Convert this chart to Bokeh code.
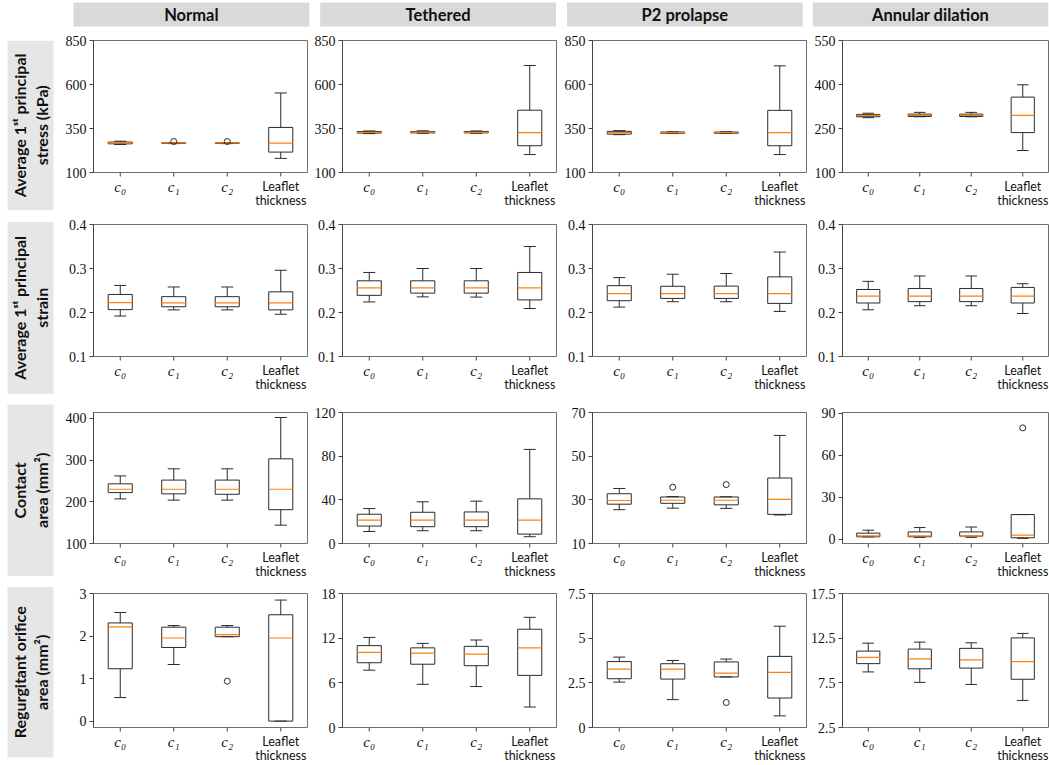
import math
from bokeh.plotting import figure
from bokeh.models import Range1d, FixedTicker, ColumnDataSource, GridBox
from bokeh.embed import file_html
from bokeh.resources import INLINE
from bokeh.core.properties import value

# ---------------- data ----------------
conditions = ["Normal", "Tethered", "P2 prolapse", "Annular dilation"]
row_titles = ["Average 1ˢᵗ principal\nstress (kPa)",
              "Average 1ˢᵗ principal\nstrain",
              "Contact\narea (mm²)",
              "Regurgitant orifice\narea (mm²)"]
positions = [1, 2, 3, 4]
tick_labels = ["c₀", "c₁", "c₂", "Leaflet", "thickness"]

# each entry: [whisker low, Q1, median, Q3, whisker high] for c0, c1, c2, leaflet thickness
stress_normal = [[259, 263, 268, 273, 278], [264, 266, 268, 269, 270],
                 [264, 266, 268, 269, 270], [180, 216, 267, 356, 552]]
stress_tethered = [[321, 324, 328, 333, 336], [323, 325, 329, 333, 337],
                   [323, 325, 328, 333, 336], [202, 252, 327, 454, 708]]
stress_p2 = [[315, 318, 326, 334, 338], [322, 323, 326, 330, 331],
             [322, 323, 326, 330, 331], [202, 252, 326, 453, 706]]
stress_annular = [[287, 290, 295, 298, 302], [290, 291, 295, 299, 305],
                  [290, 291, 295, 299, 305], [175, 236, 295, 357, 399]]

strain_normal = [[0.192, 0.2065, 0.2225, 0.241, 0.2615], [0.206, 0.213, 0.222, 0.236, 0.258],
                 [0.206, 0.213, 0.222, 0.236, 0.258], [0.196, 0.206, 0.222, 0.247, 0.296]]
strain_tethered = [[0.224, 0.239, 0.256, 0.272, 0.291], [0.2355, 0.244, 0.256, 0.272, 0.300],
                   [0.235, 0.244, 0.256, 0.272, 0.300], [0.209, 0.2286, 0.256, 0.291, 0.350]]
strain_p2 = [[0.2123, 0.2268, 0.243, 0.261, 0.2794], [0.2245, 0.232, 0.243, 0.2596, 0.287],
             [0.2245, 0.232, 0.243, 0.260, 0.2886], [0.2024, 0.2207, 0.243, 0.281, 0.3374]]
strain_annular = [[0.2062, 0.2216, 0.237, 0.2523, 0.2708], [0.2154, 0.2247, 0.237, 0.2546, 0.283],
                  [0.2154, 0.2247, 0.237, 0.2546, 0.283], [0.1977, 0.2216, 0.237, 0.257, 0.2654]]

contact_normal = [[207, 222, 230, 243, 262], [204, 219, 230, 252, 279],
                  [204, 218, 230, 252, 279], [144, 181, 230, 303, 402]]
contact_tethered = [[11, 16, 21.5, 26.8, 32], [11.7, 15.4, 21.5, 28.6, 38.2],
                    [11.7, 15.4, 21.5, 28.9, 38.8], [6.2, 8.6, 21.5, 40.9, 86.2]]
contact_p2 = [[25.5, 28, 29.7, 32.8, 35.2], [26.2, 28.4, 29.8, 31.3, 31.5],
              [26.1, 27.7, 29.8, 31.3, 31.4], [23.05, 23.35, 30.25, 40, 59.5]]
contact_annular = [[1.5, 1.6, 2.3, 4.2, 6.3], [1.2, 1.6, 2.3, 5.1, 8.2],
                   [1.2, 2.1, 2.3, 5.1, 8.6], [0.5, 0.9, 2.8, 17.5, 17.5]]

regurg_normal = [[0.554, 1.231, 2.215, 2.308, 2.554], [1.331, 1.731, 1.954, 2.208, 2.246],
                 [1.985, 1.985, 2.031, 2.208, 2.246], [0.0, 0.0, 1.954, 2.5, 2.846]]
regurg_tethered = [[7.7, 8.7, 10.1, 11.0, 12.1], [5.8, 8.5, 10.0, 10.7, 11.3],
                   [5.5, 8.3, 9.85, 10.9, 11.75], [2.75, 7.0, 10.7, 13.2, 14.8]]
regurg_p2 = [[2.54, 2.73, 3.27, 3.69, 3.94], [1.56, 2.71, 3.27, 3.57, 3.75],
             [2.83, 2.83, 3.04, 3.67, 3.83], [0.65, 1.65, 3.08, 3.98, 5.67]]
regurg_annular = [[8.72, 9.65, 10.35, 11.05, 11.94], [7.55, 9.07, 10.19, 11.28, 12.06],
                  [7.32, 9.15, 10.08, 11.36, 11.98], [5.53, 7.9, 9.88, 12.53, 13.03]]

# outliers: (position, value)
fliers_stress_normal = [(2, 276), (3, 276)]
fliers_contact_p2 = [(2, 35.8), (3, 37.0)]
fliers_contact_annular = [(4, 79.5)]
fliers_regurg_normal = [(3, 0.939)]
fliers_regurg_p2 = [(3, 1.40)]

# y-axis ranges and ticks
yrange_stress = [(100, 850), (100, 850), (100, 850), (100, 550)]
yticks_stress = [[100, 350, 600, 850]] * 3 + [[100, 250, 400, 550]]
yrange_strain = [(0.1, 0.4)] * 4
yticks_strain = [[0.1, 0.2, 0.3, 0.4]] * 4
yrange_contact = [(100, 414), (0, 120), (10, 70), (-3.2, 90.5)]
yticks_contact = [[100, 200, 300, 400], [0, 40, 80, 120], [10, 30, 50, 70], [0, 30, 60, 90]]
yrange_regurg = [(-0.15, 3.0), (0, 18), (0, 7.5), (2.5, 17.5)]
yticks_regurg = [[0, 1, 2, 3], [0, 6, 12, 18], [0.0, 2.5, 5.0, 7.5], [2.5, 7.5, 12.5, 17.5]]

panels = [
    [(stress_normal, fliers_stress_normal), (stress_tethered, []), (stress_p2, []), (stress_annular, [])],
    [(strain_normal, []), (strain_tethered, []), (strain_p2, []), (strain_annular, [])],
    [(contact_normal, []), (contact_tethered, []), (contact_p2, fliers_contact_p2), (contact_annular, fliers_contact_annular)],
    [(regurg_normal, fliers_regurg_normal), (regurg_tethered, []), (regurg_p2, fliers_regurg_p2), (regurg_annular, [])],
]
yranges = [yrange_stress, yrange_strain, yrange_contact, yrange_regurg]
yticks = [yticks_stress, yticks_strain, yticks_contact, yticks_regurg]

# ---------------- layout / style ----------------
LABEL_W = 60
HEADER_H = 30
col_w = [248, 249, 250, 242]
col_bl = [33, 34, 35, 30]
row_h = [184, 186, 181, 184]
row_bt = [10, 10, 12, 12]
row_fh = [132, 132, 131, 134]
OVERLAP = 9
BOX_W = 0.45
CAP_W = 0.225
LINE_C = "#2b2b2b"
AX_C = "#444444"
MED_C = "#ff7f0e"
HEAD_FILL = "#d9d9d9"
ROW_FILL = "#e6e6e6"
SERIF = "Liberation Serif"
SANS = "Lato"


def make_panel(stats, fliers, yr, ytk, w, h, bl, bt):
    p = figure(width=w, height=h, x_range=Range1d(0.5, 4.5), y_range=Range1d(*yr),
               output_backend="svg", toolbar_location=None, title=None,
               min_border_left=bl, min_border_right=1, min_border_top=bt, min_border_bottom=OVERLAP)
    src = ColumnDataSource(dict(
        x=positions,
        lo=[s[0] for s in stats], q1=[s[1] for s in stats], med=[s[2] for s in stats],
        q3=[s[3] for s in stats], hi=[s[4] for s in stats],
        xl=[x - BOX_W / 2 for x in positions], xr=[x + BOX_W / 2 for x in positions],
        cl=[x - CAP_W / 2 for x in positions], cr=[x + CAP_W / 2 for x in positions]))
    p.segment(x0="x", y0="q3", x1="x", y1="hi", source=src, line_color=LINE_C, line_width=1)
    p.segment(x0="x", y0="q1", x1="x", y1="lo", source=src, line_color=LINE_C, line_width=1)
    p.segment(x0="cl", y0="hi", x1="cr", y1="hi", source=src, line_color=LINE_C, line_width=1)
    p.segment(x0="cl", y0="lo", x1="cr", y1="lo", source=src, line_color=LINE_C, line_width=1)
    p.quad(left="xl", right="xr", bottom="q1", top="q3", source=src,
           fill_color=None, line_color=LINE_C, line_width=1)
    p.segment(x0="xl", y0="med", x1="xr", y1="med", source=src, line_color=MED_C, line_width=1.2)
    if fliers:
        p.scatter(x=[f[0] for f in fliers], y=[f[1] for f in fliers], marker="circle", size=6,
                  fill_color=None, line_color=LINE_C, line_width=1)
    p.xgrid.visible = False
    p.ygrid.visible = False
    p.xaxis.visible = False
    p.outline_line_color = "#6e6e6e"
    p.outline_line_width = 1
    ax = p.yaxis[0]
    ax.axis_line_color = AX_C
    ax.major_tick_line_color = AX_C
    ax.major_tick_out = 4
    ax.major_tick_in = 0
    ax.minor_tick_line_color = None
    ax.major_label_text_color = "#111111"
    ax.ticker = FixedTicker(ticks=ytk)
    ax.major_label_text_font = SERIF
    ax.major_label_text_font_size = "14px"
    ax.major_label_standoff = 3
    return p


def make_strip(panel, w, h, bl):
    # x tick marks and tick labels, sharing the panel's x scale; overlaps the panel's bottom border
    s = figure(width=w, height=h, x_range=panel.x_range, y_range=Range1d(h, 0),
               output_backend="svg", toolbar_location=None, title=None,
               min_border_left=bl, min_border_right=1, min_border_top=0, min_border_bottom=0,
               background_fill_color=None, border_fill_color=None)
    s.axis.visible = False
    s.grid.visible = False
    s.outline_line_color = None
    s.segment(x0=positions, y0=[0] * 4, x1=positions, y1=[4] * 4, line_color=AX_C, line_width=1)
    s.text(x=positions[:3], y=[14.5] * 3, text=tick_labels[:3], text_align="center",
           text_baseline="alphabetic", text_font=value(SERIF), text_font_style="italic",
           text_font_size="15px", text_color="#111111")
    s.text(x=[positions[3]] * 2, y=[14, 27.5], text=tick_labels[3:], text_align="center",
           text_baseline="alphabetic", text_font=value(SANS), text_font_size="12.5px",
           text_color="#111111")
    return s


# header figure
header = figure(width=LABEL_W + sum(col_w), height=HEADER_H,
                x_range=Range1d(0, LABEL_W + sum(col_w)), y_range=Range1d(HEADER_H, 0),
                output_backend="svg", toolbar_location=None, min_border=0, title=None)
header.axis.visible = False
header.grid.visible = False
header.outline_line_color = None
hx0 = [73, 320, 567, 813]
hx1 = [309, 556, 803, 1049]
header.quad(left=hx0, right=hx1, top=[2] * 4, bottom=[26] * 4, fill_color=HEAD_FILL, line_color=None)
header.text(x=[(a + b) / 2 for a, b in zip(hx0, hx1)], y=[14] * 4, text=conditions,
            text_align="center", text_baseline="middle", text_font=value(SANS),
            text_font_style="bold", text_font_size="16.5px", text_color="#111111")

# row label figure
total_h = sum(row_h)
lab = figure(width=LABEL_W, height=total_h, x_range=Range1d(0, LABEL_W), y_range=Range1d(total_h, 0),
             output_backend="svg", toolbar_location=None, min_border=0, title=None)
lab.axis.visible = False
lab.grid.visible = False
lab.outline_line_color = None
ry0 = [0, 184, 369, 554]
ry1 = [172, 358, 543, 727]
lab.quad(left=[7] * 4, right=[53] * 4, top=ry0, bottom=ry1, fill_color=ROW_FILL, line_color=None)
lab.text(x=[30] * 4, y=[(a + b) / 2 for a, b in zip(ry0, ry1)], text=row_titles, angle=math.pi / 2,
         text_align="center", text_baseline="middle", text_font=value(SANS), text_font_style="bold",
         text_font_size="16px", text_color="#111111", text_line_height=1.15)

children = [(header, 0, 0, 1, 5), (lab, 1, 0, 12, 1)]
track_rows = [f"{HEADER_H}px"]
for r in range(4):
    a = row_bt[r] + row_fh[r]
    rest = row_h[r] - a - OVERLAP
    track_rows += [f"{a}px", f"{OVERLAP}px", f"{rest}px"]
    for c in range(4):
        stats, fl = panels[r][c]
        p = make_panel(stats, fl, yranges[r][c], yticks[r][c], col_w[c], a + OVERLAP, col_bl[c], row_bt[r])
        s = make_strip(p, col_w[c], OVERLAP + rest, col_bl[c])
        children.append((p, 1 + 3 * r, 1 + c, 2, 1))
        children.append((s, 2 + 3 * r, 1 + c, 2, 1))
track_cols = [f"{LABEL_W}px"] + [f"{w}px" for w in col_w]

layout = GridBox(children=children, rows=track_rows, cols=track_cols, spacing=0)
open("out.html", "w").write(file_html(layout, INLINE))
